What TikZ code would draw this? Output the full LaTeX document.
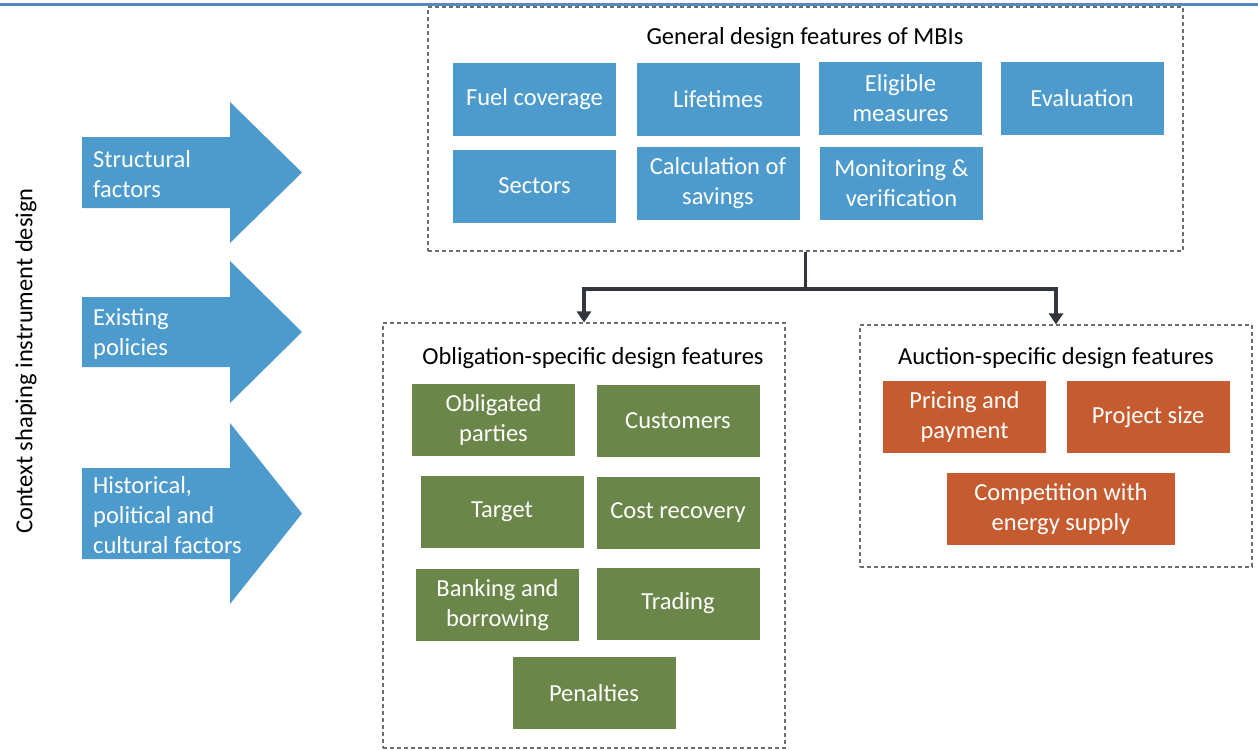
\documentclass[tikz,border=0pt]{standalone}
\usepackage{fontspec}
\setmainfont{Carlito}
\usetikzlibrary{positioning}
\usetikzlibrary{arrows.meta}
\definecolor{mbiblue}{RGB}{76,155,204}
\definecolor{oblgreen}{RGB}{106,134,72}
\definecolor{aucorange}{RGB}{199,91,48}
\definecolor{linkgray}{RGB}{50,54,60}
\definecolor{ruleblue}{RGB}{84,138,196}
\definecolor{dashgray}{RGB}{110,110,110}
\tikzset{
  feature/.style={minimum width=163pt, minimum height=73pt, inner sep=0pt, text=white, align=center, font=\fontsize{24.5}{30}\selectfont},
  mbibox/.style={feature, fill=mbiblue},
  oblbox/.style={feature, fill=oblgreen, minimum height=72pt},
  aucbox/.style={feature, fill=aucorange, minimum height=72pt},
  group/.style={draw=dashgray, line width=1.1pt, dash pattern=on 4pt off 3pt, inner sep=0pt},
  heading/.style={font=\fontsize{24.5}{30}\selectfont},
  factor/.style={text=white, align=left, anchor=west, inner sep=0pt, font=\fontsize{24.5}{30}\selectfont},
  link/.style={draw=linkgray, line width=3.8pt, -{Triangle[width=14pt,length=11pt]}}
}

\begin{document}
\begin{tikzpicture}[x=1pt, y=-1pt]
\useasboundingbox (0,0) rectangle (1258,750);
%top rule
\draw[ruleblue, line width=3pt] (0,4.5) -- (1258,4.5);
%context label
\node[heading, rotate=90] (context) at (26,361) {Context shaping instrument design};
%context arrows
\fill[mbiblue] (82,137) -- (230,137) -- (230,102) -- (302,172.5) -- (230,243) -- (230,208) -- (82,208) -- cycle;
\fill[mbiblue] (82,297) -- (230,297) -- (230,261) -- (302,332) -- (230,403) -- (230,367) -- (82,367) -- cycle;
\fill[mbiblue] (82,468) -- (230,468) -- (230,423) -- (302,513.5) -- (230,604) -- (230,559) -- (82,559) -- cycle;
\node[factor] (structural) at (93,174) {Structural\\factors};
\node[factor] (existing) at (93,334) {Existing\\policies};
\node[factor] (historical) at (93,515) {Historical,\\political and\\cultural factors};

%general features
\node[group, minimum width=755pt, minimum height=244pt] (general) at (805.5,129) {};
\node[heading] (generaltitle) at (805,38) {General design features of MBIs};
\node[mbibox] (fuel) at (534.5,99.5) {Fuel coverage};
\node[mbibox] (lifetimes) at (718,99.5) {Lifetimes};
\node[mbibox] (eligible) at (900.5,98.5) {Eligible\\measures};
\node[mbibox] (evaluation) at (1082,98) {Evaluation};
\node[mbibox] (sectors) at (534.5,186) {Sectors};
\node[mbibox] (calc) at (718,183) {Calculation of\\savings};
\node[mbibox] (monitor) at (901.5,183.5) {Monitoring \&\\verification};

%obligation features
\node[group, minimum width=402pt, minimum height=425pt] (obligation) at (584,535.5) {};
\node[heading] (obligationtitle) at (593,358) {Obligation-specific design features};
\node[oblbox] (parties) at (493.5,420) {Obligated\\parties};
\node[oblbox] (customers) at (678,421) {Customers};
\node[oblbox] (target) at (502,512) {Target};
\node[oblbox] (costrec) at (678,512.5) {Cost recovery};
\node[oblbox] (banking) at (497.5,605) {Banking and\\borrowing};
\node[oblbox] (trading) at (678,603.5) {Trading};
\node[oblbox] (penalties) at (594,693) {Penalties};

%auction features
\node[group, minimum width=392pt, minimum height=242pt] (auction) at (1056,446) {};
\node[heading] (auctiontitle) at (1056,358) {Auction-specific design features};
\node[aucbox] (pricing) at (964.5,417) {Pricing and\\payment};
\node[aucbox] (projsize) at (1148,417) {Project size};
\node[aucbox, minimum width=228pt] (competition) at (1061,509) {Competition with\\energy supply};

%links
\coordinate (split) at (805.5,289);
\draw[link] (general.south) -- (split) -| (obligation.north);
\draw[link] (split) -| (auction.north);
\end{tikzpicture}
\end{document}
